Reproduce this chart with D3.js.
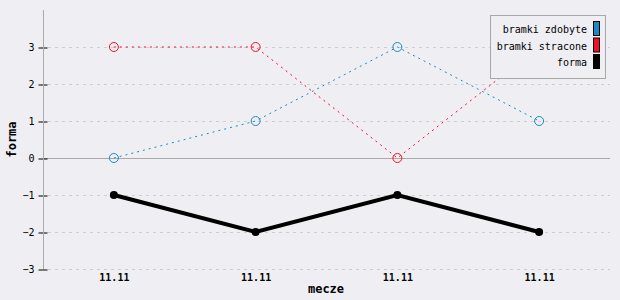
<!DOCTYPE html>
<html><head><meta charset="utf-8">
<script src="https://cdn.jsdelivr.net/npm/d3@7"></script>
<style>
html,body{margin:0;padding:0;background:#efeff3;}
text{font-family:"DejaVu Sans Mono",monospace;}
</style></head>
<body>
<svg id="c" width="620" height="300"></svg>
<script>
const categories = ["11.11","11.11","11.11","11.11"];
const zdobyte = [0, 1, 3, 1];
const stracone = [3, 3, 0, 3];
const forma = [-1, -2, -1, -2];
const yTicks = [-3, -2, -1, 0, 1, 2, 3];
const legendLabels = ["bramki zdobyte", "bramki stracone", "forma"];
const colors = ["#1a8ac4", "#f0102c", "#000000"];

(function(){
const svg = d3.select("#c");
svg.append("rect").attr("width",620).attr("height",300).attr("fill","#efeff3");
const pL = 43, pR = 610, pT = 10, pB = 269;
const x = d3.scalePoint().domain(d3.range(categories.length)).range([pL, pR]).padding(0.5);
const y = d3.scaleLinear().domain([-3, 4]).range([pB, pT]);

// grid
svg.append("g").selectAll("line").data(yTicks.filter(d=>d!==0)).join("line")
  .attr("x1", pL+5).attr("x2", pR).attr("y1", d=>y(d)+0.5).attr("y2", d=>y(d)+0.5)
  .attr("stroke","#cdcdd2").attr("stroke-dasharray","3,4");
// zero line
svg.append("line").attr("x1",pL).attr("x2",pR).attr("y1",y(0)+0.5).attr("y2",y(0)+0.5)
  .attr("stroke","#aaaaaa").attr("stroke-width",1);

// y axis
const ya = svg.append("g").attr("transform",`translate(${pL+0.5},0.5)`)
  .call(d3.axisLeft(y).tickValues(yTicks).tickSize(5).tickFormat(d=>d.toString().replace("-","\u2212")));
ya.select(".domain").remove();
ya.selectAll(".tick line").attr("x1",-5).attr("x2",4).attr("stroke","#000").attr("stroke-width",1);
ya.selectAll(".tick text").attr("x",-9).attr("font-size",10).attr("fill","#000")
  .style("font-family","'DejaVu Sans Mono',monospace");
svg.append("line").attr("x1",pL+0.5).attr("x2",pL+0.5).attr("y1",pT).attr("y2",pB)
  .attr("stroke","#aaaaaa");

// x axis labels
const xa = svg.append("g").attr("transform",`translate(0,${pB})`)
  .call(d3.axisBottom(x).tickSize(0).tickPadding(5).tickFormat(i=>categories[i]));
xa.select(".domain").remove();
xa.selectAll(".tick text").attr("font-size",10).attr("fill","#000").attr("font-weight","bold")
  .style("font-family","'DejaVu Sans Mono',monospace");

// axis titles
svg.append("text").attr("x",326).attr("y",293).attr("text-anchor","middle")
  .attr("font-size",12).attr("font-weight","bold").text("mecze");
svg.append("text").attr("transform",`translate(16,${y(0.5)}) rotate(-90)`).attr("text-anchor","middle")
  .attr("font-size",12).attr("font-weight","bold").text("forma");

const line = d3.line().x((d,i)=>x(i)).y(d=>y(d));
function dotted(data,color){
  svg.append("path").datum(data).attr("d",line).attr("fill","none")
    .attr("stroke",color).attr("stroke-width",1).attr("stroke-dasharray","2,4");
  svg.append("g").selectAll("circle").data(data).join("circle")
    .attr("cx",(d,i)=>x(i)).attr("cy",d=>y(d)).attr("r",4.5)
    .attr("fill","none").attr("stroke",color).attr("stroke-width",1);
}
dotted(zdobyte, colors[0]);
dotted(stracone, colors[1]);
svg.append("path").datum(forma).attr("d",line).attr("fill","none")
  .attr("stroke","#000").attr("stroke-width",4);
svg.append("g").selectAll("circle").data(forma).join("circle")
  .attr("cx",(d,i)=>x(i)).attr("cy",d=>y(d)).attr("r",4).attr("fill","#000");

// legend
const lg = svg.append("g");
lg.append("rect").attr("x",490.5).attr("y",15.5).attr("width",115).attr("height",63)
  .attr("fill","#efeff3").attr("stroke","#a8a8a8");
legendLabels.forEach((t,i)=>{
  const yy = 29 + i*16.5;
  lg.append("text").attr("x",587).attr("y",yy+4).attr("text-anchor","end")
    .attr("font-size",10).text(t);
  lg.append("rect").attr("x",593.5).attr("y",yy-7.5).attr("width",6).attr("height",14)
    .attr("fill",colors[i]).attr("stroke","#000");
});
})();
</script>
</body></html>
